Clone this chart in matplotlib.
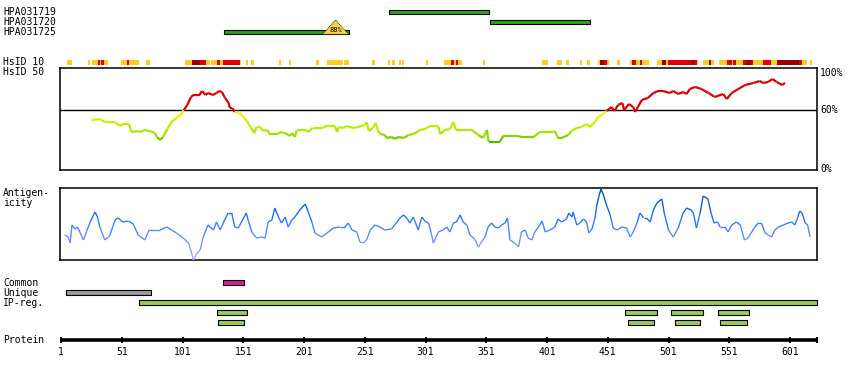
import matplotlib
matplotlib.use("Agg")
import matplotlib.pyplot as plt
from matplotlib.collections import LineCollection
from matplotlib.colors import LinearSegmentedColormap
from matplotlib.patches import Polygon

# ---------------- data ----------------
PROTEIN_LEN = 623
tick_residues = [1, 51, 101, 151, 201, 251, 301, 351, 401, 451, 501, 551, 601]

antibody_names = ["HPA031719", "HPA031720", "HPA031725"]
antibody_start = [271, 354, 135]
antibody_end = [353, 436, 238]
overlap_pos = 227
overlap_label = "88%"

# HsID 10 strip: level 1 = yellow, 2 = red, 3 = dark red
strip_start = [6, 23, 26.5, 31.5, 33, 34, 36.5, 50.5, 55.5, 57, 71,
               103, 109, 115.5, 120.5, 124.5, 129.5, 132, 134.5, 148.5, 153.5,
               157.5, 180.5, 188.5, 211, 220, 234, 257, 270, 273.5, 279,
               281.5, 301.5, 316, 322, 324.5, 326, 328, 348.5, 396.5, 409,
               416.5, 428, 434, 443, 444.5, 448, 450.5, 458.5, 469.5, 471,
               474, 477.5, 479, 491.5, 495.5, 499, 500.5, 520.5, 522, 524.5,
               529.5, 534.5, 536, 542.5, 549, 553.5, 554, 556.5, 562.5, 565.5,
               569, 570.5, 579, 585.5, 590.5, 608.5, 611, 617.5]
strip_end = [10, 25, 31.5, 33, 34, 36.5, 39.5, 55.5, 57, 65, 74.5,
             109, 115.5, 120.5, 123.5, 129.5, 132, 134.5, 148.5, 149.3, 155,
             160, 182, 190.5, 213.5, 233, 238, 259.5, 272, 276, 281,
             283.5, 303, 322, 324.5, 326, 328, 331, 350, 401.5, 413.5,
             419, 430, 436.5, 444.5, 448, 450.5, 452, 461, 471, 474,
             477.5, 479, 485, 495.5, 499, 500.5, 520.5, 522, 524.5, 525.5,
             534.5, 536, 538.5, 549, 553.5, 554.2, 556.5, 562.5, 565.5, 569,
             570.5, 579, 585.5, 590.5, 608.5, 611, 615, 619]
strip_level = [1, 1, 1, 2, 1, 2, 1, 1, 2, 1, 1,
               1, 3, 2, 1, 1, 2, 1, 2, 1, 1,
               1, 1, 1, 1, 1, 1, 1, 1, 1, 1,
               1, 1, 1, 2, 1, 2, 1, 1, 1, 1,
               1, 1, 1, 1, 3, 2, 1, 1, 1, 2,
               1, 2, 1, 1, 3, 1, 2, 3, 2, 1,
               1, 3, 1, 1, 2, 1, 2, 1, 2, 3,
               2, 1, 2, 1, 3, 2, 1, 1]

# HsID 50 identity (%)
hs_pos = [26, 33, 37, 45, 50, 52, 57, 59, 64, 67,
          69, 74, 78, 80, 82.5, 85, 88.5, 92, 96, 100,
          102, 105, 108, 110, 115, 117, 120, 122, 126, 129,
          131, 133.5, 136, 139, 140, 142, 144, 148, 154, 158,
          160, 162, 165, 167.5, 171, 172.5, 180, 181, 185, 189.5,
          191, 193.5, 195, 203, 204.5, 208, 217, 218.5, 226.5, 228,
          230, 233.5, 236, 241.5, 245.5, 251, 252.5, 254.5, 257.5, 260,
          262, 264, 267.5, 269, 273, 276, 278.5, 283, 287, 291,
          294, 296.5, 300.5, 304.5, 311.5, 313, 317, 321, 324, 326,
          339, 344.5, 348.5, 351.5, 353, 362, 365, 377, 380, 390,
          395, 406, 407.5, 410, 413, 418.5, 421, 425.5, 429.5, 433.5,
          436.5, 440.5, 443, 446, 450, 454, 456.5, 459.5, 463, 464.5,
          468.5, 472, 473.5, 479, 484, 488.5, 492.5, 496.5, 502, 505,
          509, 513, 516, 518.5, 523, 528, 534, 539, 546, 549,
          553, 558.5, 564, 571, 576, 579, 583, 586.5, 590, 594.5,
          597]
hs_val = [50, 51, 48, 48, 44, 46, 46, 38, 39, 38,
          40, 39, 37, 33, 30, 33, 41, 48, 52, 56,
          60, 65, 73, 75, 75, 79, 75, 77, 75, 77,
          79, 78, 72, 67, 62, 62, 58, 57, 49, 41,
          37, 43, 43, 39, 40, 36, 36, 38, 37, 34,
          37, 33, 40, 40, 38, 42, 42, 44, 44, 38,
          43, 42, 44, 42, 43, 45, 48, 39, 42, 47,
          39, 36, 35, 32, 33, 31, 33, 32, 35, 36,
          38, 40, 41, 44, 44, 36, 40, 41, 48, 40,
          40, 35, 32, 40, 28, 28, 34, 34, 33, 33,
          38, 38, 39, 32, 32, 35, 39, 42, 43, 46,
          43, 48, 53, 55, 59, 63, 59, 65, 67, 60,
          66, 63, 58, 70, 72, 77, 79, 79, 77, 79,
          76, 78, 76, 81, 83, 81, 77, 73, 76, 71,
          77, 81, 85, 87, 89, 87, 88, 91, 88, 85,
          87]

# Antigenicity (relative score)
ag_pos = [4, 7, 8.5, 10, 12.5, 14.5, 16.5, 19.5, 22.5, 25,
          29, 31, 33, 37, 41, 45.5, 48, 52, 56.5, 60.5,
          64.5, 70, 73.5, 78.5, 82.5, 88, 92, 96, 101.5, 106,
          108.5, 110, 112.5, 115.5, 118, 122, 126.5, 129, 132, 134.5,
          138.5, 141.5, 144, 147, 149.5, 153.5, 155, 158, 162, 166,
          169, 171.5, 174.5, 177, 180, 182.5, 185.5, 188, 191, 193.5,
          197.5, 202, 204.5, 207.5, 210, 215.5, 221, 225, 230.5, 234.5,
          237.5, 240.5, 244.5, 247, 250, 252.5, 255.5, 259.5, 263.5, 267.5,
          273, 277.5, 280, 283, 285.5, 288, 291, 295, 298, 300.5,
          303.5, 305.5, 307.5, 311.5, 315.5, 318.5, 321, 324, 326.5, 329.5,
          332, 335, 337.5, 341.5, 344.5, 347, 350, 352.5, 355.5, 358,
          361, 363.5, 366.5, 368.5, 370.5, 374.5, 377.5, 380, 383, 385.5,
          388.5, 391, 395, 397, 399.5, 403.5, 407.5, 410, 413, 417,
          419, 421.5, 422.5, 425.5, 428, 431, 433.5, 435.5, 438, 440.5,
          442, 444, 445.5, 447.5, 450, 453, 455.5, 458.5, 462.5, 466.5,
          469.5, 472, 475, 477.5, 480.5, 483, 486, 488.5, 491.5, 495.5,
          497.5, 501, 505, 509, 513, 516, 519.5, 521.5, 524, 527,
          529.5, 533.5, 536, 538.5, 541.5, 543.5, 547.5, 550, 553, 557,
          560, 563.5, 566.5, 569.5, 572, 575, 577.5, 580.5, 583, 586,
          588.5, 591.5, 595.5, 599.5, 602.5, 605, 607.5, 609, 611, 613.5,
          615.5, 617.5]
ag_val = [25, 23, 17, 35, 31, 33, 28, 20, 30, 38,
          48, 43, 33, 20, 24, 40, 42, 38, 39, 36,
          25, 20, 30, 30, 30, 33, 30, 27, 22, 17,
          7, 0, 6, 10, 23, 35, 30, 38, 30, 37,
          47, 47, 33, 32, 38, 47, 40, 28, 22, 23,
          22, 38, 40, 52, 43, 37, 43, 33, 40, 43,
          50, 56, 48, 38, 27, 23, 28, 32, 33, 33,
          37, 30, 28, 18, 17, 20, 30, 35, 33, 30,
          31, 38, 42, 45, 42, 37, 43, 30, 43, 39,
          37, 28, 17, 28, 30, 33, 28, 37, 38, 45,
          38, 35, 25, 21, 13, 18, 23, 33, 37, 33,
          32, 35, 37, 42, 20, 17, 13, 28, 30, 22,
          20, 28, 35, 39, 28, 30, 33, 41, 38, 41,
          47, 43, 48, 35, 37, 41, 38, 27, 31, 42,
          55, 65, 71, 65, 55, 45, 32, 30, 33, 32,
          23, 28, 37, 47, 42, 42, 38, 50, 57, 61,
          47, 30, 23, 32, 47, 52, 50, 47, 32, 47,
          64, 61, 47, 37, 38, 33, 33, 28, 35, 38,
          35, 20, 22, 28, 33, 37, 37, 27, 25, 23,
          30, 33, 35, 37, 38, 35, 43, 49, 47, 37,
          35, 23]

feature_labels = ["Common", "Unique", "IP-reg."]
common_regions = [(134, 152)]
unique_regions = [(5.5, 75)]
ipreg_regions = [(65, 623)]
ipreg_row2_regions = [(129, 154), (465.5, 491.5), (503, 529), (542, 567)]
ipreg_row3_regions = [(130.5, 152), (468, 489), (506, 527), (543.5, 566)]

# ---------------- layout ----------------
W, H = 850, 380
PX = 1.215          # pixels per residue
X0 = 61             # pixel of residue 1


def res_at(px):
    return 1 + (px - X0) / PX


MONO = dict(family="DejaVu Sans Mono", fontsize=7, color="black")

fig = plt.figure(figsize=(W / 100, H / 100), dpi=100)
fig.patch.set_facecolor("white")

# residue-based track axes, y in pixel rows
ax = fig.add_axes([0, 0, 1, 1])
ax.set_xlim(res_at(0), res_at(W))
ax.set_ylim(H, 0)
ax.axis("off")

# pixel axes for text
axp = fig.add_axes([0, 0, 1, 1])
axp.set_xlim(0, W)
axp.set_ylim(H, 0)
axp.axis("off")
axp.patch.set_alpha(0)


def bars(regions, yc, color, h=4.4, lw=0.8):
    ax.broken_barh([(s, e - s) for s, e in regions], (yc - h / 2, h),
                   facecolors=color, edgecolors="black", linewidths=lw, zorder=3)


# antibody rows
ab_rows = [12.3, 22.3, 32.2]
for name, s, e, yc in zip(antibody_names, antibody_start, antibody_end, ab_rows):
    axp.text(3, yc, name, ha="left", va="center", **MONO)
    bars([(s, e)], yc, "#22aa11", h=4.0)
tri = Polygon([(overlap_pos - 10.8, 34.3), (overlap_pos, 20.0), (overlap_pos + 10.8, 34.3)],
              closed=True, facecolor="#f5d442", edgecolor="black", linewidth=0.6,
              linestyle=(0, (1, 1)), zorder=4)
ax.add_patch(tri)
ax.text(overlap_pos, 30.3, overlap_label, ha="center", va="center",
        family="DejaVu Sans Mono", fontsize=5, color="black", zorder=5)

# HsID 10 strip
level_colors = {1: "#ffcc22", 2: "#dd0000", 3: "#990000"}
for lvl, col in level_colors.items():
    segs = [(s, e - s) for s, e, l in zip(strip_start, strip_end, strip_level) if l == lvl]
    ax.broken_barh(segs, (60, 5), facecolors=col, edgecolors="none", zorder=2)
axp.text(3, 62.3, "HsID 10", ha="left", va="center", **MONO)
axp.text(3, 72.3, "HsID 50", ha="left", va="center", **MONO)

# HsID 50 panel
ax_hs = fig.add_axes([60 / W, 1 - 170 / H, 757 / W, 102 / H])
ax_hs.set_xlim(res_at(60), res_at(817))
ax_hs.set_ylim(0, 102)
ax_hs.set_xticks([]); ax_hs.set_yticks([])
for sp in ax_hs.spines.values():
    sp.set_linewidth(1.1)
ax_hs.axhline(60, color="black", lw=1.0, zorder=1)
# identity colour scale from 25 % to 60 %
id_cmap = LinearSegmentedColormap.from_list(
    "id", [(0.0, "#55aa00"), (0.143, "#66bb00"), (0.286, "#99dd00"),
           (0.43, "#aaee00"), (0.66, "#ccee00"), (0.86, "#eeee00"), (1.0, "#ffee22")])


def id_color(v):
    if v >= 60:
        return "#dd0000"
    return id_cmap(min(max((v - 25) / 35.0, 0), 1))


segs = [[(hs_pos[i], hs_val[i]), (hs_pos[i + 1], hs_val[i + 1])] for i in range(len(hs_pos) - 1)]
cols = [id_color((hs_val[i] + hs_val[i + 1]) / 2) for i in range(len(hs_pos) - 1)]
ax_hs.add_collection(LineCollection(segs, colors=cols, linewidths=1.6, zorder=3,
                                    capstyle="butt"))
axp.text(820, 72.5, "100%", ha="left", va="center", **MONO)
axp.text(820, 110.3, "60%", ha="left", va="center", **MONO)
axp.text(820, 169.5, "0%", ha="left", va="center", **MONO)

# Antigenicity panel
ax_ag = fig.add_axes([60 / W, 1 - 260 / H, 757 / W, 72 / H])
ax_ag.set_xlim(res_at(60), res_at(817))
ax_ag.set_ylim(0, 72)
ax_ag.set_xticks([]); ax_ag.set_yticks([])
for sp in ax_ag.spines.values():
    sp.set_linewidth(1.1)
ag_cmap = LinearSegmentedColormap.from_list(
    "ag", [(0.0, "#b8a8ff"), (0.22, "#8899ff"), (0.42, "#4d88ff"),
           (0.65, "#1a6ef0"), (1.0, "#0048a8")])
segs = [[(ag_pos[i], ag_val[i]), (ag_pos[i + 1], ag_val[i + 1])] for i in range(len(ag_pos) - 1)]
cols = [ag_cmap(min(((ag_val[i] + ag_val[i + 1]) / 2) / 70.0, 1)) for i in range(len(ag_pos) - 1)]
ax_ag.add_collection(LineCollection(segs, colors=cols, linewidths=1.0, zorder=3))
axp.text(3, 193.3, "Antigen-", ha="left", va="center", **MONO)
axp.text(3, 203.3, "icity", ha="left", va="center", **MONO)

# features
feat_rows = [282.5, 292.5, 302.5, 312.5, 322.5]
for lab, yc in zip(feature_labels, feat_rows):
    axp.text(3, yc, lab, ha="left", va="center", **MONO)
bars(common_regions, feat_rows[0], "#cc2299")
bars(unique_regions, feat_rows[1], "#999999")
bars(ipreg_regions, feat_rows[2], "#99cc55")
bars(ipreg_row2_regions, feat_rows[3], "#99cc55")
bars(ipreg_row3_regions, feat_rows[4], "#99cc55")

# protein axis
axp.text(3, 339.7, "Protein", ha="left", va="center", **MONO)
ax.hlines(339.8, 1, PROTEIN_LEN, color="black", lw=2.6, zorder=3)
ax.vlines(tick_residues + [PROTEIN_LEN], 337.2, 342.6, color="black", lw=1.5, zorder=3)
for t in tick_residues:
    ax.text(t, 352, str(t), ha="center", va="center", **MONO)

fig.savefig("out.png", dpi=100, facecolor="white")
